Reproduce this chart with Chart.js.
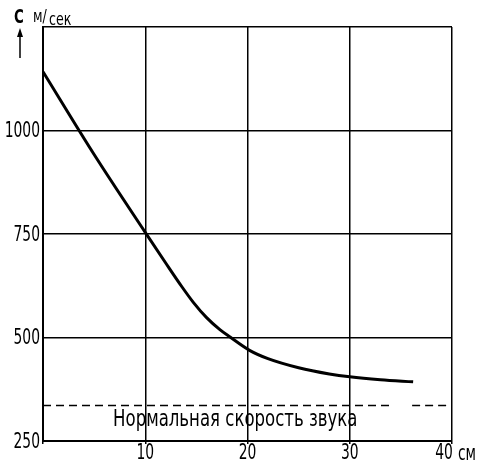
<!DOCTYPE html>
<html>
<head>
<meta charset="utf-8">
<script src="https://cdn.jsdelivr.net/npm/chart.js@4/dist/chart.umd.min.js"></script>
<style>
  html, body { margin: 0; padding: 0; background: #fff; }
  #wrap { width: 482px; height: 465px; position: relative; }
</style>
</head>
<body>
<div id="wrap"><canvas id="c" width="482" height="465"></canvas></div>
<script>
// Distance from the charge, cm
const distanceCm = [0, 5, 10, 12, 13.6, 14.7, 16, 17.3, 18.3, 20.2, 22, 25, 28, 30, 33, 36.2];
// Propagation speed C, m/s
const speedMs = [1142, 942, 754, 680, 622, 585, 548, 519, 501, 469, 449, 427, 412, 405, 398, 393];

// Normal speed of sound, m/s
const soundSpeed = 336;
const soundLineA = [0, 33.9];
const soundLineB = [36.1, 40];
const soundCaption = 'Нормальная скорость звука';

const xTicks = [0, 10, 20, 30, 40];
const yTicks = [250, 500, 750, 1000, 1250];
const xUnit = 'см';
const yName = 'C';
const yUnit = ['м/', 'сек'];

const FONT = "'DejaVu Sans Condensed', 'DejaVu Sans', sans-serif";

// narrow lettering: condensed face squeezed horizontally
function narrowText(ctx, text, x, y, size, align, squeeze, weight) {
  ctx.save();
  ctx.font = (weight || 'normal') + ' ' + size + 'px ' + FONT;
  ctx.textAlign = align;
  ctx.translate(x, y);
  ctx.scale(squeeze, 1);
  ctx.fillText(text, 0, 0);
  ctx.restore();
}

const labelsPlugin = {
  id: 'labels',
  afterDraw(chart) {
    const ctx = chart.ctx;
    const xs = chart.scales.x, ys = chart.scales.y;
    const area = chart.chartArea;
    ctx.save();
    ctx.fillStyle = '#000';
    ctx.textBaseline = 'middle';

    // y tick labels
    yTicks.forEach(v => {
      if (v === 1250) return;
      narrowText(ctx, String(v), area.left - 3, ys.getPixelForValue(v) + 1, 22, 'right', 0.7);
    });
    // x tick labels
    xTicks.forEach(v => {
      if (v === 0) return;
      const px = xs.getPixelForValue(v);
      if (v === 40) {
        narrowText(ctx, String(v), px - 8, area.bottom + 12, 22, 'center', 0.7);
        narrowText(ctx, xUnit, px + 6, area.bottom + 13, 22, 'left', 0.7);
      } else {
        narrowText(ctx, String(v), px, area.bottom + 12, 22, 'center', 0.7);
      }
    });

    // caption under the dashed line
    narrowText(ctx, soundCaption, xs.getPixelForValue(18.8), ys.getPixelForValue(300), 23, 'center', 0.8);

    // axis name with unit
    ctx.textBaseline = 'alphabetic';
    narrowText(ctx, yName, 14, 23, 19, 'left', 0.78, 'bold');
    narrowText(ctx, yUnit[0], 33, 22, 18, 'left', 0.78);
    narrowText(ctx, yUnit[1], 49, 25, 18, 'left', 0.78);

    // arrow under the name
    ctx.strokeStyle = '#000';
    ctx.lineWidth = 1.5;
    ctx.beginPath();
    ctx.moveTo(20, 58); ctx.lineTo(20, 32);
    ctx.stroke();
    ctx.beginPath();
    ctx.moveTo(20, 28); ctx.lineTo(17, 37); ctx.lineTo(23, 37); ctx.closePath();
    ctx.fill();
    ctx.restore();
  }
};

new Chart(document.getElementById('c'), {
  type: 'line',
  data: {
    datasets: [
      {
        data: distanceCm.map((x, i) => ({ x, y: speedMs[i] })),
        borderColor: '#000',
        borderWidth: 3,
        pointRadius: 0,
        cubicInterpolationMode: 'monotone',
        fill: false
      },
      {
        data: soundLineA.map(x => ({ x, y: soundSpeed })),
        borderColor: '#000',
        borderWidth: 1.5,
        borderDash: [8, 5],
        pointRadius: 0,
        fill: false
      },
      {
        data: soundLineB.map(x => ({ x, y: soundSpeed })),
        borderColor: '#000',
        borderWidth: 1.5,
        borderDash: [8, 5],
        pointRadius: 0,
        fill: false
      }
    ]
  },
  options: {
    responsive: false,
    animation: false,
    layout: { padding: { left: 0, top: 27, right: 30, bottom: 0 } },
    plugins: { legend: { display: false }, tooltip: { enabled: false } },
    scales: {
      x: {
        type: 'linear',
        min: 0, max: 40,
        afterBuildTicks(s) { s.ticks = xTicks.map(v => ({ value: v })); },
        afterFit(s) { s.height = 24; },
        grid: { color: '#000', lineWidth: 1.5, drawTicks: true, tickLength: 3, tickColor: '#000' },
        border: { display: true, color: '#000', width: 2 },
        ticks: { display: false }
      },
      y: {
        type: 'linear',
        min: 250, max: 1250,
        afterBuildTicks(s) { s.ticks = yTicks.map(v => ({ value: v })); },
        afterFit(s) { s.width = 43; },
        grid: { color: '#000', lineWidth: 1.5, drawTicks: false },
        border: { display: true, color: '#000', width: 2 },
        ticks: { display: false }
      }
    }
  },
  plugins: [labelsPlugin]
});
</script>
</body>
</html>
